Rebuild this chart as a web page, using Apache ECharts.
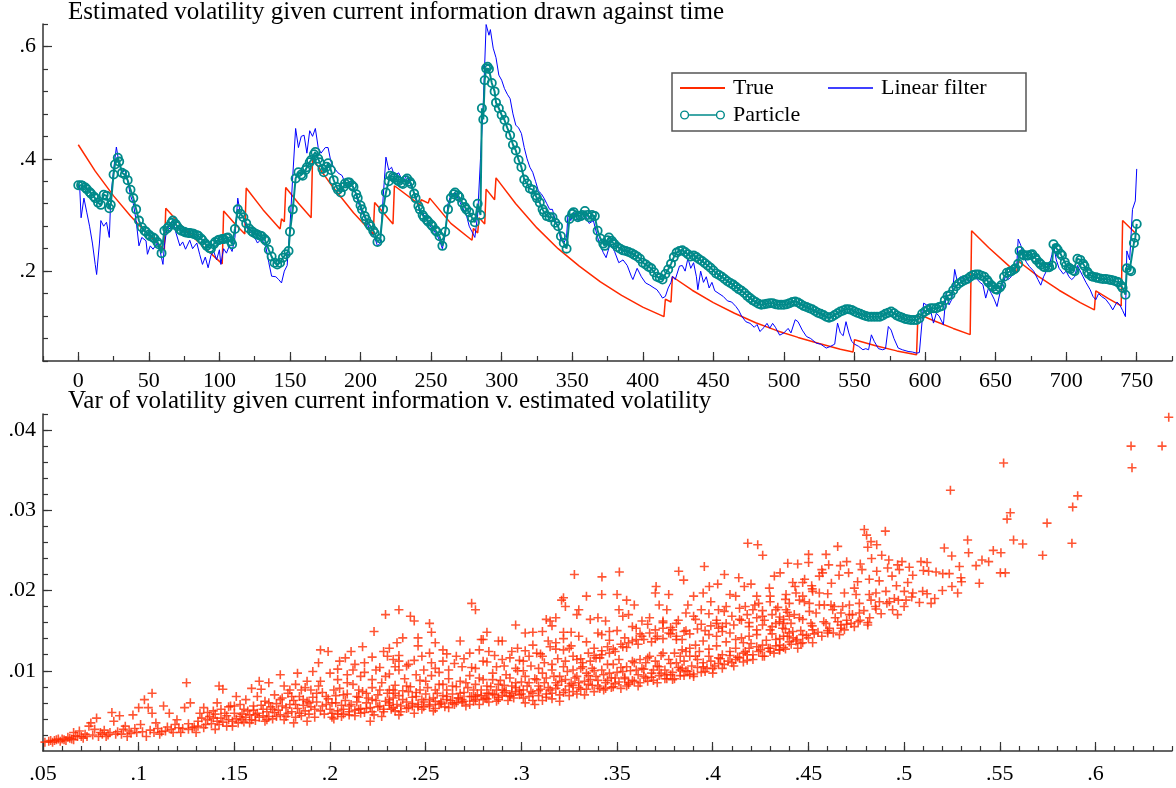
<!DOCTYPE html>
<html>
<head>
<meta charset="utf-8">
<title>Estimated volatility</title>
<script src="https://cdn.jsdelivr.net/npm/echarts@6/dist/echarts.min.js"></script>
<style>
html, body { margin: 0; padding: 0; background: #fff; }
#chart { width: 1176px; height: 788px; }
</style>
</head>
<body>
<div id="chart"></div>
<script>
// top panel: [time step, volatility]
const trueVol = [
    [0,.425],[12,.378],[25,.334],[37,.298],[49,.266],[61,.238],
    [62,.312],[75,.276],[88,.245],[102,.213],
    [103,.307],[110,.287],[118,.266],
    [119,.348],[131,.309],[143,.275],[144,.293],[146,.288],
    [147,.349],[156,.321],[165,.295],
    [166,.400],[180,.351],[195,.304],[209,.266],
    [210,.322],[223,.284],[224,.352],[242,.318],[243,.327],[248,.321],[249,.330],
    [264,.285],[279,.255],[280,.276],[283,.268],[284,.295],[288,.284],[289,.346],[295,.327],
    [296,.366],[310,.320],[325,.277],[340,.240],[355,.209],[370,.181],[385,.157],[400,.136],[415,.119],
    [416,.150],[420,.145],[421,.190],[435,.166],[450,.144],[465,.125],[480,.108],[495,.094],
    [510,.082],[525,.071],[540,.061],[549,.056],[550,.078],[565,.067],[580,.058],[594,.051],
    [595,.124],[605,.113],[620,.098],[632,.087],[633,.272],[645,.242],[660,.208],[665,.198],
    [666,.218],[680,.191],[695,.166],[710,.144],[720,.131],[721,.165],[730,.151],[739,.138],
    [740,.290],[749,.268]
];

const linearVol = [
    [0,.355],[1,.35],[2,.295],[4,.33],[6,.305],[8,.28],[10,.25],[12,.212],[13,.194],[15,.25],
    [16,.29],[18,.28],[20,.287],[22,.26],[23,.33],[25,.38],[27,.421],[29,.39],[31,.375],[33,.38],
    [35,.36],[37,.335],[39,.32],[41,.29],[43,.245],[45,.26],[48,.254],[49,.23],[51,.245],[53,.239],
    [56,.25],[58,.235],[60,.212],[61,.245],[63,.28],[65,.275],[67,.29],[69,.27],[72,.245],[74,.252],
    [76,.239],[79,.255],[81,.24],[84,.25],[86,.23],[88,.212],[90,.225],[92,.206],[94,.228],[96,.235],
    [98,.22],[100,.238],[101,.212],[103,.24],[105,.232],[107,.245],[109,.235],[111,.26],[113,.33],[115,.30],
    [117,.295],[119,.28],[121,.272],[124,.265],[127,.25],[130,.258],[133,.242],[135,.215],[137,.191],[140,.19],
    [142,.185],[144,.179],[146,.2],[148,.21],[150,.28],[152,.37],[154,.454],[156,.42],[158,.44],[160,.442],
    [162,.41],[164,.45],[166,.44],[168,.454],[170,.42],[172,.41],[175,.42],[177,.42],[179,.395],[181,.385],
    [184,.375],[187,.37],[190,.35],[192,.36],[195,.35],[198,.325],[201,.305],[204,.29],[207,.27],[210,.26],
    [212,.245],[214,.25],[216,.33],[218,.403],[220,.38],[222,.385],[224,.37],[227,.375],[230,.36],[233,.37],
    [236,.35],[239,.335],[242,.305],[245,.30],[248,.285],[251,.275],[254,.265],[256,.255],[258,.24],[260,.265],
    [262,.32],[264,.335],[267,.34],[270,.325],[272,.315],[275,.30],[277,.28],[279,.27],[281,.26],[283,.30],
    [285,.40],[287,.50],[289,.639],[291,.62],[292,.63],[294,.597],[296,.58],[298,.549],[300,.54],[302,.525],
    [304,.515],[306,.507],[308,.48],[310,.46],[312,.455],[314,.445],[316,.42],[318,.40],[320,.385],[322,.376],
    [324,.36],[326,.343],[328,.338],[330,.33],[332,.32],[334,.31],[336,.31],[338,.29],[340,.28],[342,.255],
    [344,.25],[346,.26],[347,.302],[349,.29],[351,.305],[354,.29],[357,.295],[359,.30],[362,.285],[365,.29],
    [368,.26],[370,.245],[372,.233],[374,.224],[377,.25],[380,.235],[383,.215],[386,.22],[389,.21],[392,.19],
    [393,.185],[396,.205],[399,.19],[402,.179],[405,.175],[408,.17],[410,.167],[412,.16],[414,.152],[416,.155],
    [418,.17],[420,.18],[421,.191],[423,.185],[426,.209],[428,.21],[430,.20],[432,.223],[434,.205],[436,.215],
    [438,.19],[439,.167],[441,.20],[443,.18],[445,.19],[447,.17],[449,.18],[451,.165],[454,.16],[457,.155],
    [460,.147],[463,.145],[466,.137],[468,.13],[470,.12],[473,.11],[476,.107],[479,.10],[481,.105],[483,.0925],
    [486,.10],[488,.107],[490,.0985],[492,.107],[494,.10],[497,.086],[500,.09],[503,.098],[505,.09],[508,.1135],
    [510,.11],[513,.095],[516,.0836],[519,.08],[523,.0717],[526,.07],[530,.063],[533,.066],[536,.07],[538,.1075],
    [540,.09],[542,.085],[544,.11],[546,.09],[548,.075],[550,.07],[553,.066],[556,.06],[558,.062],[560,.06],
    [562,.0866],[564,.075],[567,.062],[570,.06],[572,.062],[574,.1015],[576,.095],[578,.08],[581,.063],[584,.06],
    [588,.057],[591,.056],[594,.054],[596,.055],[598,.1135],[599,.143],[601,.14],[603,.14],[606,.1075],[608,.125],
    [610,.12],[613,.1046],[615,.161],[617,.14],[619,.15],[621,.203],[623,.18],[625,.19],[627,.185],[629,.19],
    [631,.18],[633,.19],[635,.195],[637,.185],[639,.18],[641,.176],[643,.152],[645,.17],[647,.16],[649,.15],
    [651,.137],[653,.16],[655,.177],[657,.19],[659,.185],[661,.19],[663,.2],[665,.21],[666,.257],[668,.245],
    [670,.225],[672,.215],[674,.208],[677,.2],[680,.185],[682,.175],[684,.19],[686,.2],[688,.21],[690,.23],
    [691,.248],[693,.22],[695,.205],[698,.195],[700,.2],[702,.19],[704,.185],[706,.19],[708,.21],[710,.2],
    [712,.19],[714,.18],[717,.167],[719,.155],[721,.149],[723,.16],[725,.155],[728,.15],[731,.14],[733,.131],
    [736,.145],[738,.14],[740,.13],[742,.119],[743,.236],[745,.22],[747,.31],[749,.325],[750,.382]
];

const particleVol = [
    [0,.353],[2,.353],[3,.352],[5,.349],[6,.346],[8,.341],[9,.338],[11,.333],[12,.330],[14,.322],
    [16,.318],[18,.336],[20,.334],[22,.312],[23,.318],[25,.372],[26,.390],[28,.402],[29,.395],[31,.375],
    [33,.372],[35,.362],[37,.345],[39,.330],[41,.310],[43,.290],[45,.278],[47,.272],[48,.270],[50,.265],
    [51,.262],[53,.260],[54,.258],[56,.252],[57,.248],[59,.232],[61,.272],[63,.276],[64,.279],[66,.286],
    [67,.290],[69,.284],[70,.280],[72,.274],[73,.272],[75,.270],[76,.269],[78,.268],[79,.268],[81,.267],
    [82,.266],[84,.264],[85,.263],[87,.258],[88,.255],[90,.249],[91,.245],[93,.241],[94,.240],[96,.248],
    [97,.252],[99,.255],[100,.256],[102,.257],[103,.257],[105,.259],[106,.260],[108,.253],[109,.248],[111,.275],
    [113,.310],[115,.302],[117,.296],[119,.285],[121,.276],[123,.271],[124,.269],[126,.266],[127,.265],[129,.263],
    [130,.262],[132,.257],[133,.254],[135,.238],[137,.226],[139,.215],[141,.212],[143,.215],[145,.224],[147,.230],
    [149,.236],[150,.270],[152,.310],[154,.365],[156,.376],[158,.372],[159,.370],[161,.380],[162,.385],[164,.394],
    [165,.398],[167,.408],[168,.412],[170,.400],[171,.394],[173,.382],[174,.376],[176,.386],[177,.392],[179,.380],
    [181,.362],[183,.350],[184,.345],[186,.340],[188,.350],[189,.356],[191,.358],[192,.358],[194,.353],[195,.350],
    [197,.337],[198,.330],[200,.317],[201,.310],[203,.298],[204,.292],[206,.284],[207,.280],[209,.272],[210,.268],
    [212,.252],[214,.258],[216,.310],[218,.340],[220,.360],[221,.370],[223,.368],[224,.366],[226,.362],[227,.360],
    [229,.357],[230,.355],[232,.362],[233,.365],[235,.359],[236,.355],[238,.338],[239,.330],[241,.316],[242,.310],
    [244,.300],[245,.296],[247,.291],[248,.288],[250,.283],[251,.280],[253,.273],[254,.270],[256,.262],[258,.245],
    [260,.270],[262,.310],[264,.330],[266,.337],[267,.340],[269,.335],[270,.332],[272,.322],[274,.314],[275,.310],
    [277,.305],[279,.295],[281,.287],[283,.320],[285,.300],[286,.490],[287,.470],[288,.540],[289,.561],[290,.564],
    [291,.560],[293,.535],[295,.520],[296,.500],[298,.490],[300,.478],[302,.469],[304,.455],[306,.442],[308,.425],
    [310,.415],[312,.398],[314,.385],[316,.363],[318,.356],[320,.347],[322,.345],[324,.335],[325,.330],[327,.322],
    [329,.310],[330,.305],[332,.298],[334,.296],[336,.296],[338,.286],[340,.280],[342,.262],[344,.250],[346,.240],
    [348,.293],[350,.302],[351,.305],[353,.299],[354,.296],[356,.298],[357,.300],[359,.307],[361,.300],[362,.296],
    [364,.300],[366,.298],[368,.272],[370,.258],[372,.249],[373,.245],[375,.255],[376,.260],[378,.254],[379,.250],
    [380,.248],[382,.243],[384,.240],[386,.237],[388,.236],[390,.234],[392,.232],[394,.229],[396,.226],[398,.222],
    [400,.215],[402,.212],[404,.208],[406,.205],[408,.198],[410,.190],[412,.188],[414,.185],[416,.195],[418,.203],
    [420,.213],[422,.225],[424,.233],[426,.236],[428,.237],[430,.234],[432,.230],[434,.226],[436,.228],[438,.225],
    [440,.221],[442,.218],[444,.214],[446,.210],[448,.206],[450,.201],[452,.196],[454,.193],[456,.190],[458,.186],
    [460,.182],[462,.179],[464,.176],[466,.172],[468,.168],[470,.165],[472,.161],[474,.156],[476,.152],[478,.148],
    [480,.145],[482,.142],[484,.140],[486,.141],[488,.142],[490,.143],[492,.143],[494,.141],[496,.140],[498,.140],
    [500,.140],[502,.141],[504,.143],[506,.145],[508,.146],[510,.144],[512,.141],[514,.138],[516,.136],[518,.134],
    [520,.132],[522,.129],[524,.126],[526,.124],[528,.122],[530,.119],[532,.117],[534,.119],[536,.122],[538,.125],
    [540,.128],[542,.130],[544,.132],[546,.132],[548,.131],[550,.128],[552,.126],[554,.124],[556,.122],[558,.120],
    [560,.119],[562,.119],[564,.119],[566,.119],[568,.119],[570,.121],[572,.124],[574,.126],[576,.128],[578,.125],
    [580,.121],[582,.119],[584,.117],[586,.115],[588,.114],[590,.113],[592,.113],[594,.113],[596,.116],[598,.124],
    [600,.128],[602,.131],[604,.134],[606,.134],[608,.134],[610,.136],[612,.138],[614,.148],[616,.156],[618,.158],
    [620,.166],[622,.173],[624,.178],[626,.181],[628,.184],[630,.186],[632,.190],[634,.193],[636,.194],[638,.194],
    [640,.192],[642,.190],[644,.184],[645,.180],[647,.175],[648,.172],[650,.168],[651,.167],[653,.171],[654,.175],
    [656,.190],[658,.197],[660,.199],[661,.200],[663,.203],[664,.205],[666,.213],[667,.236],[669,.230],[670,.228],
    [672,.228],[673,.228],[675,.229],[676,.230],[678,.224],[679,.220],[681,.215],[682,.212],[684,.208],[685,.207],
    [687,.207],[688,.207],[690,.210],[691,.248],[693,.241],[694,.238],[696,.231],[697,.228],[699,.216],[700,.210],
    [702,.206],[703,.204],[705,.201],[706,.200],[708,.222],[710,.220],[712,.213],[713,.209],[715,.199],[716,.195],
    [718,.191],[719,.190],[721,.189],[722,.188],[724,.187],[726,.186],[728,.186],[730,.185],[732,.184],[734,.183],
    [736,.181],[737,.180],[739,.174],[740,.170],[742,.158],[743,.205],[745,.202],[746,.200],[748,.250],[749,.260],
    [750,.284]
];

// bottom panel: [estimated volatility, variance]
const varPoints = [
    // left tail
    [.051,.0011],[.053,.0012],[.054,.0013],[.055,.0011],[.056,.0013],[.057,.0014],[.058,.0015],[.059,.0012],
    [.060,.0015],[.061,.0014],[.062,.0013],[.063,.0017],[.064,.0016],[.065,.0015],[.066,.0014],[.066,.0023],
    [.067,.0019],[.068,.0018],[.069,.0025],[.070,.0018],[.071,.0016],[.072,.0021],[.073,.0018],[.074,.0031],
    [.075,.0035],[.076,.0020],[.077,.0027],[.078,.0041],[.079,.0018],[.080,.0023],[.081,.0021],[.082,.0026],
    [.083,.0018],[.084,.0020],[.085,.0023],[.086,.0048],[.087,.0037],[.088,.0021],[.089,.0024],[.090,.0044],
    [.091,.0021],[.092,.0027],[.093,.0031],[.094,.0018],[.095,.0025],[.096,.0022],[.097,.0045],[.098,.0028],
    [.099,.0023],[.100,.0054],[.101,.0033],[.102,.0024],[.103,.0064],[.104,.0018],[.105,.0054],[.106,.0026],
    [.107,.0072],[.107,.0047],[.108,.0023],[.109,.0035],[.110,.0028],[.111,.0021],[.112,.0024],[.113,.0056],
    [.114,.0025],[.115,.0030],[.116,.0047],[.117,.0027],[.118,.0023],[.119,.0033],[.120,.0039],[.121,.0029],
    [.122,.0023],[.123,.0028],[.124,.0054],[.125,.0085],[.126,.0027],[.126,.0034],[.127,.0060],[.128,.0029],
    [.129,.0030],[.130,.0023],
    // .13 - .20
    [.131,.0037],[.131,.0031],[.132,.0047],[.133,.0041],[.134,.0054],[.134,.0029],[.135,.0033],[.136,.0039],
    [.136,.0048],[.137,.0043],[.138,.0034],[.139,.0050],[.139,.0041],[.140,.0027],[.140,.0046],[.141,.0037],
    [.141,.0060],[.142,.0081],[.142,.0033],[.143,.0041],[.143,.0052],[.144,.0077],[.144,.0036],[.145,.0047],
    [.146,.0031],[.146,.0044],[.147,.0039],[.147,.0055],[.148,.0056],[.149,.0037],[.149,.0031],[.150,.0056],
    [.150,.0047],[.151,.0068],[.151,.0040],[.152,.0035],[.153,.0043],[.153,.0058],[.154,.0039],[.154,.0046],
    [.155,.0052],[.155,.0036],[.156,.0064],[.156,.0042],[.157,.0050],[.158,.0035],[.158,.0045],[.159,.0078],
    [.159,.0039],[.160,.0056],[.160,.0051],[.161,.0045],[.161,.0038],[.162,.0068],[.162,.0047],[.163,.0087],
    [.163,.0042],[.164,.0077],[.164,.0057],[.165,.0052],[.165,.0044],[.166,.0037],[.166,.0062],[.167,.0039],
    [.167,.0049],[.168,.0060],[.168,.0085],[.168,.0043],[.169,.0055],[.170,.0052],[.170,.0040],[.171,.0070],
    [.171,.0048],[.172,.0043],[.172,.0059],[.173,.0051],[.174,.0064],[.174,.0095],[.174,.0045],[.175,.0056],
    [.175,.0066],[.176,.0081],[.176,.0039],[.177,.0043],[.177,.0054],[.178,.0047],[.178,.0072],[.179,.0076],
    [.179,.0058],[.180,.0068],[.180,.0049],[.181,.0035],[.181,.0063],[.182,.0058],[.182,.0083],[.182,.0042],
    [.183,.0097],[.183,.0053],[.184,.0047],[.184,.0068],[.185,.0076],[.185,.0044],[.186,.0064],[.186,.0057],
    [.187,.0079],[.187,.0050],[.188,.0087],[.188,.0037],[.188,.0062],[.189,.0060],[.189,.0046],[.190,.0076],
    [.190,.0055],[.191,.0099],[.191,.0067],[.192,.0052],[.192,.0042],[.193,.0072],[.193,.0061],[.194,.0110],
    [.194,.0081],[.195,.0126],[.195,.0087],[.195,.0050],[.196,.0056],[.196,.0073],[.197,.0046],[.198,.0068],
    [.198,.0058],[.199,.0124],[.199,.0065],[.200,.0097],[.200,.0052],
    // .20 - .30
    [.201,.0047],[.201,.0060],[.202,.0076],[.202,.0040],[.203,.0060],[.203,.0069],[.204,.0089],[.204,.0050],
    [.204,.0102],[.205,.0112],[.205,.0078],[.206,.0043],[.206,.0057],[.207,.0070],[.207,.0046],[.208,.0116],
    [.208,.0063],[.209,.0085],[.209,.0071],[.209,.0095],[.210,.0056],[.210,.0049],[.211,.0124],[.211,.0058],
    [.212,.0101],[.212,.0083],[.213,.0044],[.213,.0108],[.214,.0068],[.214,.0061],[.215,.0076],[.215,.0052],
    [.215,.0067],[.216,.0093],[.216,.0053],[.217,.0130],[.217,.0074],[.218,.0110],[.218,.0048],[.218,.0098],
    [.219,.0072],[.219,.0060],[.220,.0066],[.221,.0037],[.221,.0054],[.222,.0089],[.222,.0064],[.222,.0079],
    [.222,.0117],[.223,.0149],[.223,.0045],[.224,.0101],[.224,.0063],[.225,.0070],[.226,.0076],[.226,.0056],
    [.226,.0104],[.227,.0043],[.227,.0085],[.228,.0124],[.228,.0049],[.229,.0093],[.229,.0170],[.229,.0062],
    [.230,.0118],[.230,.0072],[.231,.0060],[.231,.0076],[.231,.0064],[.231,.0128],[.231,.0096],[.232,.0052],
    [.233,.0076],[.233,.0054],[.233,.0114],[.233,.0066],[.234,.0105],[.234,.0072],[.234,.0082],[.235,.0135],
    [.235,.0058],[.236,.0176],[.236,.0101],[.236,.0045],[.236,.0112],[.236,.0069],[.236,.0119],[.237,.0049],
    [.238,.0141],[.238,.0064],[.238,.0075],[.239,.0090],[.240,.0081],[.240,.0061],[.240,.0106],[.241,.0074],
    [.241,.0108],[.241,.0054],[.242,.0168],[.242,.0080],[.243,.0056],[.243,.0067],[.244,.0162],[.244,.0047],
    [.244,.0113],[.245,.0068],[.245,.0095],[.245,.0073],[.246,.0141],[.246,.0131],[.246,.0058],[.247,.0076],
    [.247,.0088],[.248,.0118],[.248,.0052],[.248,.0064],[.249,.0055],[.249,.0101],[.250,.0087],[.250,.0071],
    [.251,.0079],[.252,.0159],[.252,.0122],[.252,.0064],[.252,.0058],[.253,.0148],[.253,.0094],[.253,.0110],
    [.254,.0050],[.254,.0066],[.255,.0135],[.255,.0103],[.255,.0076],[.255,.0053],[.256,.0072],[.257,.0058],
    [.257,.0083],[.257,.0098],[.258,.0061],[.259,.0126],[.259,.0112],[.259,.0083],[.259,.0069],[.260,.0055],
    [.261,.0068],[.261,.0076],[.261,.0121],[.262,.0101],[.262,.0054],[.262,.0090],[.263,.0063],[.264,.0081],
    [.264,.0071],[.265,.0058],[.265,.0109],[.266,.0118],[.266,.0060],[.266,.0080],[.267,.0066],[.268,.0137],
    [.268,.0072],[.268,.0087],[.269,.0105],[.269,.0064],[.269,.0061],[.270,.0073],[.270,.0115],[.271,.0085],
    [.271,.0056],[.272,.0079],[.273,.0122],[.273,.0058],[.273,.0094],[.274,.0184],[.274,.0068],[.274,.0104],
    [.275,.0076],[.275,.0062],[.276,.0176],[.276,.0103],[.276,.0068],[.276,.0083],[.277,.0070],[.278,.0091],
    [.278,.0058],[.278,.0126],[.279,.0139],[.279,.0076],[.280,.0139],[.280,.0112],[.280,.0064],[.280,.0089],
    [.281,.0066],[.282,.0148],[.282,.0081],[.282,.0072],[.282,.0111],[.283,.0124],[.283,.0072],[.283,.0061],
    [.284,.0080],[.285,.0089],[.285,.0097],[.286,.0070],[.286,.0119],[.287,.0105],[.287,.0062],[.287,.0076],
    [.288,.0137],[.288,.0083],[.288,.0064],[.289,.0088],[.290,.0137],[.290,.0114],[.290,.0076],[.290,.0069],
    [.291,.0082],[.291,.0106],[.292,.0095],[.292,.0075],[.293,.0063],[.294,.0116],[.294,.0068],[.294,.0091],
    [.295,.0081],[.295,.0072],[.295,.0124],[.296,.0066],[.297,.0157],[.297,.0103],[.297,.0085],[.297,.0079],
    [.298,.0128],[.298,.0100],[.299,.0076],[.299,.0070],[.299,.0113],[.300,.0086],
    [.201,.0042],[.204,.0046],[.207,.0052],[.210,.0045],[.213,.0051],[.216,.0047],[.219,.0053],[.222,.0049],
    [.225,.0055],[.228,.0052],[.231,.0057],[.234,.0050],[.237,.0056],[.240,.0053],[.243,.0059],[.246,.0055],
    [.249,.0061],[.252,.0056],[.255,.0062],[.258,.0059],[.261,.0064],[.264,.0060],[.267,.0066],[.270,.0062],
    [.273,.0068],[.276,.0064],[.279,.0069],[.282,.0065],[.285,.0071],[.288,.0067],[.291,.0073],[.294,.0069],
    [.297,.0074],[.300,.0071],
    // .30 - .44
    [.301,.0112],[.301,.0076],[.301,.0066],[.302,.0147],[.302,.0093],[.302,.0125],[.303,.0081],[.304,.0118],
    [.304,.0085],[.305,.0074],[.306,.0148],[.306,.0072],[.306,.0063],[.306,.0132],[.307,.0090],[.308,.0122],
    [.308,.0089],[.309,.0081],[.309,.0069],[.310,.0077],[.310,.0121],[.311,.0149],[.311,.0118],[.311,.0097],
    [.312,.0085],[.313,.0164],[.313,.0091],[.313,.0067],[.314,.0079],[.314,.0137],[.315,.0162],[.315,.0130],
    [.315,.0076],[.316,.0156],[.316,.0101],[.316,.0072],[.317,.0093],[.318,.0166],[.318,.0135],[.318,.0085],
    [.318,.0127],[.319,.0082],[.320,.0093],[.320,.0070],[.321,.0188],[.321,.0087],[.322,.0148],[.322,.0191],
    [.322,.0126],[.322,.0105],[.322,.0140],[.323,.0180],[.323,.0089],[.323,.0076],[.324,.0099],[.325,.0128],
    [.325,.0081],[.326,.0148],[.326,.0084],[.326,.0131],[.327,.0101],[.327,.0074],[.328,.0091],[.329,.0170],
    [.329,.0114],[.329,.0093],[.330,.0176],[.330,.0085],[.330,.0079],[.330,.0143],[.331,.0103],[.332,.0105],
    [.332,.0110],[.333,.0087],[.334,.0193],[.334,.0097],[.334,.0077],[.334,.0136],[.335,.0094],[.336,.0164],
    [.336,.0112],[.336,.0089],[.337,.0103],[.337,.0082],[.338,.0100],[.338,.0128],[.339,.0116],[.339,.0093],
    [.340,.0166],[.340,.0147],[.340,.0088],[.341,.0116],[.341,.0078],[.342,.0195],[.342,.0120],[.342,.0101],
    [.342,.0145],[.343,.0095],[.344,.0162],[.344,.0078],[.344,.0085],[.345,.0108],[.346,.0149],[.346,.0122],
    [.346,.0097],[.346,.0138],[.347,.0091],[.348,.0108],[.348,.0080],[.349,.0124],[.349,.0091],[.350,.0195],
    [.350,.0098],[.350,.0150],[.351,.0176],[.351,.0114],[.351,.0086],[.352,.0104],[.353,.0168],[.353,.0130],
    [.353,.0099],[.354,.0092],[.354,.0141],[.355,.0188],[.355,.0105],[.355,.0081],[.356,.0170],[.356,.0135],
    [.356,.0085],[.357,.0100],[.358,.0112],[.358,.0088],[.358,.0155],[.359,.0182],[.359,.0110],[.360,.0153],
    [.360,.0139],[.360,.0101],[.361,.0095],[.362,.0114],[.362,.0085],[.362,.0146],[.363,.0162],[.363,.0143],
    [.363,.0103],[.364,.0102],[.365,.0110],[.365,.0091],[.366,.0116],[.366,.0158],[.367,.0166],[.367,.0147],
    [.367,.0118],[.368,.0097],[.369,.0101],[.369,.0088],[.370,.0197],[.370,.0151],[.370,.0112],[.370,.0140],
    [.371,.0106],[.372,.0182],[.372,.0105],[.372,.0094],[.373,.0119],[.374,.0162],[.374,.0153],[.374,.0122],
    [.374,.0160],[.375,.0101],[.376,.0176],[.376,.0095],[.376,.0090],[.377,.0195],[.377,.0147],[.377,.0114],
    [.378,.0109],[.378,.0154],[.379,.0151],[.379,.0089],[.379,.0098],[.380,.0122],[.381,.0159],[.381,.0139],
    [.381,.0110],[.382,.0104],[.382,.0163],[.383,.0118],[.383,.0094],[.384,.0139],[.384,.0126],[.384,.0103],
    [.385,.0112],[.386,.0172],[.386,.0124],[.386,.0100],[.386,.0150],[.387,.0182],[.388,.0128],[.388,.0095],
    [.388,.0118],[.389,.0106],[.390,.0193],[.390,.0096],[.390,.0168],[.391,.0164],[.391,.0132],[.391,.0118],
    [.392,.0114],[.393,.0124],[.394,.0176],[.394,.0158],[.395,.0197],[.395,.0137],[.395,.0105],[.395,.0110],
    [.396,.0099],[.398,.0145],[.398,.0118],[.398,.0127],[.398,.0171],[.399,.0186],[.399,.0112],[.400,.0103],
    [.401,.0106],[.402,.0159],[.402,.0143],[.402,.0131],[.402,.0163],[.403,.0176],[.403,.0116],[.404,.0115],
    [.405,.0155],[.405,.0149],[.405,.0120],[.406,.0108],[.406,.0174],[.407,.0180],[.407,.0136],[.409,.0195],
    [.409,.0147],[.409,.0124],[.409,.0119],[.410,.0110],[.410,.0168],[.412,.0193],[.412,.0139],[.412,.0114],
    [.412,.0128],[.414,.0164],[.414,.0116],[.414,.0178],[.415,.0141],[.416,.0135],[.416,.0122],[.417,.0180],
    [.417,.0124],[.418,.0113],[.418,.0170],[.419,.0155],[.419,.0143],[.419,.0128],[.420,.0134],[.421,.0176],
    [.421,.0120],[.422,.0182],[.423,.0193],[.423,.0151],[.423,.0130],[.423,.0145],[.424,.0184],[.425,.0126],
    [.426,.0168],[.426,.0157],[.426,.0132],[.426,.0118],[.426,.0175],[.428,.0138],[.430,.0193],[.430,.0151],
    [.430,.0124],[.430,.0128],[.430,.0186],[.431,.0155],[.431,.0146],[.433,.0176],[.433,.0159],[.433,.0139],
    [.433,.0131],[.434,.0179],[.435,.0126],[.435,.0140],[.437,.0159],[.437,.0164],[.437,.0143],[.437,.0129],
    [.438,.0152],[.438,.0189],[.439,.0143],[.440,.0168],[.440,.0147],[.440,.0136],
    [.302,.0060],[.304,.0068],[.307,.0058],[.309,.0075],[.311,.0063],[.313,.0071],[.316,.0065],[.318,.0078],
    [.320,.0062],[.322,.0073],[.325,.0069],[.327,.0082],[.329,.0071],[.331,.0077],[.333,.0070],[.335,.0083],
    [.338,.0074],[.340,.0081],[.343,.0076],[.345,.0088],[.347,.0079],[.349,.0084],[.352,.0078],[.354,.0090],
    [.356,.0083],[.359,.0087],[.361,.0081],[.364,.0093],[.366,.0087],[.368,.0092],[.371,.0085],[.373,.0097],
    [.375,.0090],[.378,.0095],[.380,.0090],[.383,.0101],[.385,.0094],[.387,.0099],[.390,.0093],[.392,.0104],
    [.394,.0098],[.397,.0103],[.400,.0097],[.403,.0109],[.405,.0103],[.408,.0112],[.411,.0106],[.413,.0117],
    [.416,.0111],[.418,.0120],[.421,.0114],[.424,.0124],[.427,.0118],[.429,.0128],[.432,.0122],[.435,.0132],
    [.438,.0127],[.441,.0133],[.444,.0139],[.447,.0135],[.450,.0141],[.453,.0146],[.457,.0143],[.460,.0150],
    [.463,.0147],[.467,.0153],[.470,.0158],[.474,.0155],[.477,.0163],[.481,.0160],
    [.301,.0100],[.305,.0106],[.309,.0103],[.312,.0110],[.316,.0108],[.319,.0115],[.323,.0112],[.327,.0118],
    [.331,.0115],[.335,.0122],[.338,.0119],[.342,.0125],[.345,.0130],[.348,.0127],[.352,.0133],[.355,.0129],
    [.358,.0137],[.361,.0133],[.364,.0139],[.368,.0136],[.371,.0143],[.374,.0140],[.378,.0146],[.381,.0143],
    [.385,.0149],[.388,.0146],[.392,.0152],[.396,.0150],[.399,.0156],[.403,.0153],[.407,.0159],[.411,.0157],
    [.415,.0163],[.419,.0160],[.423,.0166],[.427,.0163],[.431,.0170],[.435,.0167],[.439,.0173],
    // .44 and above
    [.4348,.0161],[.4348,.0126],[.4365,.0153],[.4383,.0195],[.4383,.0176],[.4400,.0184],[.4409,.0159],[.4418,.0149],
    [.4426,.0170],[.4435,.0197],[.4435,.0137],[.4444,.0128],[.4453,.0188],[.4453,.0166],[.4461,.0134],[.4470,.0193],
    [.4470,.0164],[.4470,.0145],[.4479,.0186],[.4505,.0184],[.4505,.0174],[.4513,.0159],[.4522,.0199],[.4522,.0151],
    [.4522,.0135],[.4540,.0172],[.4557,.0197],[.4557,.0182],[.4583,.0182],[.4592,.0159],[.4601,.0196],[.4601,.0147],
    [.4618,.0182],[.4627,.0176],[.4635,.0180],[.4653,.0161],[.4662,.0145],[.4670,.0172],[.4679,.0180],[.4688,.0197],
    [.4688,.0151],[.4714,.0182],[.4714,.0170],[.4723,.0159],[.4749,.0195],[.4766,.0184],[.4766,.0172],[.4810,.0157],
    [.4818,.0195],[.4827,.0188],[.4853,.0197],[.4853,.0177],[.4871,.0186],[.4905,.0199],[.4923,.0186],[.4949,.0190],
    [.4966,.0170],[.5001,.0199],[.5010,.0188],[.5045,.0197],[.5097,.0199],[.5141,.0184],[.5280,.0197],
    [.442,.0141],[.446,.0150],[.449,.0144],[.452,.0156],[.455,.0148],[.458,.0161],[.461,.0153],[.464,.0166],
    [.467,.0157],[.470,.0163],[.473,.0170],[.476,.0161],[.479,.0175],[.482,.0166],[.485,.0180],[.488,.0171],
    [.491,.0184],[.494,.0176],[.497,.0188],[.500,.0180],[.504,.0192],[.508,.0185],[.512,.0196],[.516,.0190],
    [.520,.0200],[.525,.0205],[.530,.0211],
    [.443,.0205],[.448,.0214],[.452,.0202],[.457,.0226],[.462,.0209],[.466,.0219],[.470,.0236],[.474,.0203],
    [.478,.0226],[.483,.0240],[.487,.0212],[.492,.0238],[.496,.0206],
    [.3277,.0220],[.3421,.0217],[.3512,.0223],[.3704,.0205],[.3822,.0224],[.3848,.0213],[.3956,.0230],[.3982,.0205],
    [.4026,.0208],[.4061,.0220],[.4136,.0216],[.4165,.0205],[.4183,.0259],[.4200,.0208],[.4235,.0257],[.4261,.0244],
    [.4296,.0203],[.4322,.0218],[.4352,.0222],[.4392,.0234],
    [.4418,.0210],[.4444,.0233],[.4470,.0210],[.4501,.0245],[.4501,.0235],[.4517,.0206],[.4557,.0218],[.4574,.0222],
    [.4592,.0245],[.4606,.0232],[.4653,.0255],[.4667,.0231],[.4710,.0222],[.4757,.0211],[.4771,.0233],[.4792,.0276],
    [.4804,.0269],[.4810,.0254],[.4818,.0214],[.4827,.0261],[.4857,.0257],[.4857,.0224],[.4883,.0244],[.4902,.0274],
    [.4914,.0228],[.4937,.0218],[.4966,.0232],[.4975,.0226],[.4989,.0236],[.5019,.0210],[.5027,.0229],[.5045,.0219],
    [.5088,.0236],[.5101,.0225],[.5120,.0235],[.5128,.0224],[.5167,.0223],[.5202,.0221],[.5210,.0253],[.5236,.0221],
    [.5242,.0325],[.5249,.0243],[.5289,.0230],[.5297,.0216],[.5332,.0263],[.5337,.0247],[.5376,.0231],[.5393,.0209],
    [.5407,.0238],[.5442,.0236],[.5466,.0250],[.5503,.0222],[.5506,.0247],[.5520,.0359],[.5529,.0222],[.5538,.0289],
    [.5555,.0297],[.5572,.0263],[.5620,.0258],[.5724,.0244],[.5747,.0284],[.5877,.0259],[.5881,.0304],[.5907,.0318],
    [.6186,.0380],[.6191,.0353],[.6348,.0380],[.6383,.0416]
];

// axis ticks and labels
function range(from, to, step) {
    const out = [];
    for (let v = from; v <= to + step / 1000; v += step) out.push(+v.toFixed(4));
    return out;
}
const topXMajor = range(0, 750, 50);
const topXMinor = range(-25, 775, 25);
const topYMajor = [0.2, 0.4, 0.6];
const topYMinor = range(0.04, 0.64, 0.04);
const botXMajor = range(0.05, 0.6, 0.05);
const botXMinor = range(0.05, 0.64, 0.01);
const botYMajor = [0.01, 0.02, 0.03, 0.04];
const botYMinor = range(0.002, 0.042, 0.002);

const serif = '"Liberation Serif", "DejaVu Serif", serif';
const axisColor = '#333';
const red = '#ff2a00';
const blue = '#0000ff';
const teal = '#008a8a';
const ring = 'path://M0,5a5,5 0 1,0 10,0a5,5 0 1,0 -10,0zM1.8,5a3.2,3.2 0 1,1 6.4,0a3.2,3.2 0 1,1 -6.4,0z';
const plus = 'path://M0,3.7h9v1.6h-9zM3.7,0h1.6v9h-1.6z';
const particleIcon = 'path://M0.5,6a4.5,4.5 0 1,0 9,0a4.5,4.5 0 1,0 -9,0zM1.9,6a3.1,3.1 0 1,1 6.2,0a3.1,3.1 0 1,1 -6.2,0z'
    + 'M9.5,5.2h26v1.6h-26z'
    + 'M35.5,6a4.5,4.5 0 1,0 9,0a4.5,4.5 0 1,0 -9,0zM36.9,6a3.1,3.1 0 1,1 6.2,0a3.1,3.1 0 1,1 -6.2,0z';

/**
 * 0.25 -> ".25"
 */
function dotLabel(v) {
    return String(+(+v).toFixed(3)).replace(/^0\./, '.');
}

/**
 * value axis with ticks at fixed spots; minor axes only draw short ticks
 */
function axis(gridIndex, position, min, max, ticks, major, margin) {
    return {
        type: 'value',
        gridIndex,
        position,
        min,
        max,
        axisLine: { show: major, onZero: false, lineStyle: { color: axisColor, width: 1.5 } },
        axisTick: {
            show: true,
            inside: true,
            length: major ? 9 : 5,
            customValues: ticks,
            lineStyle: { color: axisColor, width: 1.2 }
        },
        axisLabel: {
            show: major,
            customValues: ticks,
            formatter: dotLabel,
            margin,
            fontFamily: serif,
            fontSize: 22,
            color: '#000'
        },
        splitLine: { show: false }
    };
}

const legendBase = {
    orient: 'horizontal',
    padding: 0,
    itemWidth: 45,
    itemHeight: 12,
    selectedMode: false,
    textStyle: { fontFamily: serif, fontSize: 22, color: '#000', padding: [0, 0, 0, 3] }
};

const titleStyle = { fontFamily: serif, fontSize: 25, fontWeight: 'normal', color: '#000' };

const chart = echarts.init(document.getElementById('chart'));

chart.setOption({
    animation: false,
    backgroundColor: '#fff',
    title: [
        {
            text: 'Estimated volatility given current information drawn against time',
            left: 68, top: 0, padding: 0,
            textStyle: titleStyle
        },
        {
            text: 'Var of volatility given current information v. estimated volatility',
            left: 68, top: 389, padding: 0,
            textStyle: titleStyle
        }
    ],
    grid: [
        { left: 43, right: 4, top: 24, height: 337 },
        { left: 43, right: 4, top: 414, height: 337 }
    ],
    xAxis: [
        axis(0, 'bottom', -25, 775, topXMajor, true, 9),
        axis(0, 'bottom', -25, 775, topXMinor, false, 9),
        axis(1, 'bottom', 0.05, 0.64, botXMajor, true, 12),
        axis(1, 'bottom', 0.05, 0.64, botXMinor, false, 12)
    ],
    yAxis: [
        axis(0, 'left', 0.04, 0.64, topYMajor, true, 7),
        axis(0, 'left', 0.04, 0.64, topYMinor, false, 7),
        axis(1, 'left', 0, 0.042, botYMajor, true, 7),
        axis(1, 'left', 0, 0.042, botYMinor, false, 7)
    ],
    legend: [
        Object.assign({}, legendBase, { data: [{ name: 'True', icon: 'rect' }], left: 680, top: 77, itemHeight: 2 }),
        Object.assign({}, legendBase, { data: [{ name: 'Linear filter', icon: 'rect' }], left: 828, top: 77, itemHeight: 1.3 }),
        Object.assign({}, legendBase, { data: [{ name: 'Particle', icon: particleIcon }], left: 680, top: 104, itemHeight: 10 })
    ],
    graphic: [{
        type: 'rect',
        z: 1,
        shape: { x: 672, y: 73, width: 354, height: 58 },
        style: { fill: '#fff', stroke: '#555', lineWidth: 1.5 }
    }],
    series: [
        {
            name: 'True',
            type: 'line',
            xAxisIndex: 0,
            yAxisIndex: 0,
            data: trueVol,
            symbol: 'none',
            lineStyle: { color: red, width: 1.5 },
            itemStyle: { color: red }
        },
        {
            name: 'Linear filter',
            type: 'line',
            xAxisIndex: 0,
            yAxisIndex: 0,
            data: linearVol,
            symbol: 'none',
            lineStyle: { color: blue, width: 1 },
            itemStyle: { color: blue }
        },
        {
            name: 'Particle',
            type: 'line',
            xAxisIndex: 0,
            yAxisIndex: 0,
            data: particleVol,
            symbol: ring,
            symbolSize: 10,
            showAllSymbol: true,
            lineStyle: { color: teal, width: 2 },
            itemStyle: { color: teal }
        },
        {
            name: 'Variance',
            type: 'scatter',
            xAxisIndex: 2,
            yAxisIndex: 2,
            data: varPoints,
            symbol: plus,
            symbolSize: 9,
            itemStyle: { color: red }
        }
    ]
});
</script>
</body>
</html>
